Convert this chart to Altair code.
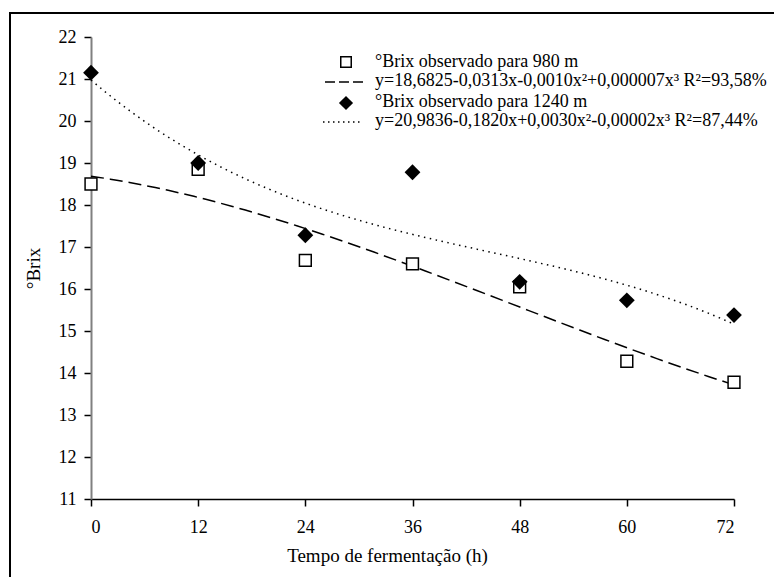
import altair as alt
import pandas as pd

hours = [0, 12, 24, 36, 48, 60, 72]
brix_980 = [18.5, 18.85, 16.68, 16.6, 16.05, 14.28, 13.78]
brix_1240 = [21.15, 19.0, 17.28, 18.78, 16.17, 15.73, 15.38]
series_names = ["980 m", "1240 m"]
legend_labels = [
    "°Brix observado para 980 m",
    "y=18,6825-0,0313x-0,0010x²+0,000007x³ R²=93,58%",
    "°Brix observado para 1240 m",
    "y=20,9836-0,1820x+0,0030x²-0,00002x³ R²=87,44%",
]
x_ticks = [0, 12, 24, 36, 48, 60, 72]
y_ticks = list(range(11, 23))

FONT = "Liberation Serif, Times New Roman, serif"
W, H = 643, 462

df = pd.DataFrame({
    "x": hours * 2,
    "y": brix_980 + brix_1240,
    "series": [series_names[0]] * len(hours) + [series_names[1]] * len(hours),
})

xs = alt.Scale(domain=[0, 72], nice=False, zero=False)
ys = alt.Scale(domain=[11, 22], nice=False, zero=False)

xenc = alt.X("x:Q", scale=xs, axis=alt.Axis(
    values=x_ticks, title="Tempo de fermentação (h)", titleX=296, titleY=56,
    titleAnchor="middle", titleBaseline="middle", domainColor="black", domainWidth=1.5,
    tickColor="black", tickWidth=1.5, tickSize=7, labelPadding=12,
    labelFont=FONT, titleFont=FONT, labelFontSize=18, titleFontSize=19,
    labelColor="black", titleColor="black", titleFontWeight="normal", grid=False))
yenc = alt.Y("y:Q", scale=ys, axis=alt.Axis(
    values=y_ticks, title="°Brix", titleX=-58, titleY=231, titleBaseline="middle",
    domainColor="#808080", domainWidth=2, tickColor="black", tickWidth=1.5,
    tickSize=7, labelPadding=8,
    labelFont=FONT, titleFont=FONT, labelFontSize=18, titleFontSize=19,
    labelColor="black", titleColor="black", titleFontWeight="normal", grid=False))

base = alt.Chart(df)

fit_980 = base.transform_filter(alt.datum.series == series_names[0]).transform_regression(
    "x", "y", method="poly", order=3, extent=[0, 72]
).mark_line(color="black", strokeWidth=1.5, strokeDash=[13, 6]).encode(x=xenc, y=yenc)

fit_1240 = base.transform_filter(alt.datum.series == series_names[1]).transform_regression(
    "x", "y", method="poly", order=3, extent=[0, 72]
).mark_line(color="black", strokeWidth=1.5, strokeDash=[1.5, 4.5]).encode(x=xenc, y=yenc)

pts_980 = base.transform_filter(alt.datum.series == series_names[0]).mark_point(
    shape="square", size=140, filled=True, fill="white", stroke="black", strokeWidth=1.5, opacity=1
).encode(x=xenc, y=yenc)

pts_1240 = base.transform_filter(alt.datum.series == series_names[1]).mark_point(
    shape="diamond", size=250, filled=True, color="black", opacity=1
).encode(x=xenc, y=yenc)

one = alt.Data(values=[{"k": 1}])

frame = alt.Chart(one).mark_rect(fill=None, stroke="black", strokeWidth=2, clip=False).encode(
    x=alt.value(-81), y=alt.value(-24), x2=alt.value(W + 120), y2=alt.value(H + 120))

leg_sq = alt.Chart(one).mark_point(shape="square", size=110, filled=True, fill="white",
                                   stroke="black", strokeWidth=1.5, opacity=1).encode(
    x=alt.value(255), y=alt.value(25))
leg_dash = alt.Chart(one).mark_rule(color="black", strokeWidth=1.5, strokeDash=[10, 4]).encode(
    x=alt.value(234), x2=alt.value(272), y=alt.value(45))
leg_dia = alt.Chart(one).mark_point(shape="diamond", size=200, filled=True, color="black",
                                    opacity=1).encode(x=alt.value(255), y=alt.value(66))
leg_dot = alt.Chart(one).mark_rule(color="black", strokeWidth=1.5, strokeDash=[1.5, 3.5]).encode(
    x=alt.value(232), x2=alt.value(272), y=alt.value(85))

leg_text = []
for i, lab in enumerate(legend_labels):
    leg_text.append(
        alt.Chart(alt.Data(values=[{"t": lab}])).mark_text(
            align="left", baseline="middle", font=FONT, fontSize=18, color="black"
        ).encode(text="t:N", x=alt.value(284), y=alt.value([25, 44, 65, 84][i]))
    )

chart = alt.layer(frame, fit_980, fit_1240, pts_980, pts_1240,
                  leg_dash, leg_dot, leg_sq, leg_dia, *leg_text).properties(
    width=W, height=H,
    padding={"left": 91, "top": 37, "right": 40, "bottom": 78},
    autosize=alt.AutoSizeParams(type="none"),
    background="white",
).configure_view(stroke=None)

chart.save("out.html", embed_options={"renderer": "svg", "actions": False})
